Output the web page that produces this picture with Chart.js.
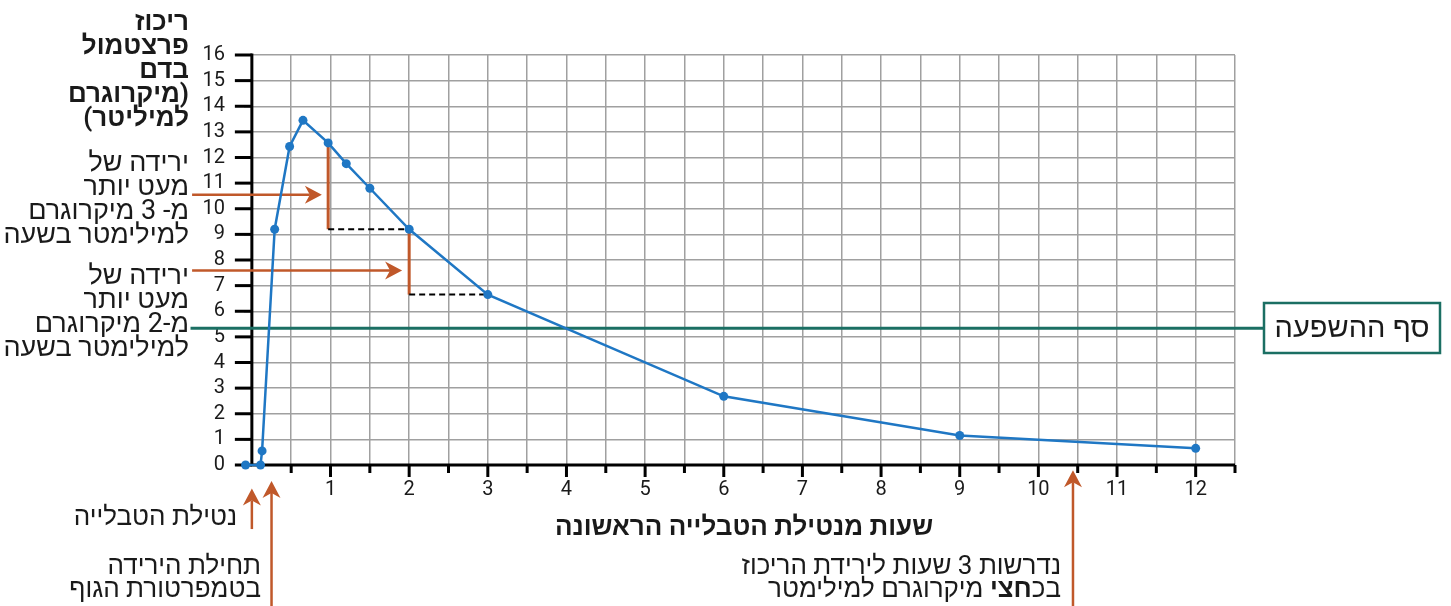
<!DOCTYPE html>
<html lang="he">
<head>
<meta charset="utf-8">
<title>ריכוז פרצטמול בדם</title>
<script src="https://cdn.jsdelivr.net/npm/chart.js@4.4.1/dist/chart.umd.min.js"></script>
<style>
  html, body { margin: 0; padding: 0; background: #fff; }
  canvas { display: block; }
</style>
</head>
<body>
<canvas id="chart" width="1451" height="606"></canvas>
<script>
'use strict';

// ***** DATA *****
const hours = [-0.08, 0.11, 0.13, 0.29, 0.48, 0.65, 0.97, 1.2, 1.5, 2, 3, 6, 9, 12];
const concentration = [0, 0, 0.55, 9.2, 12.43, 13.45, 12.57, 11.76, 10.8, 9.2, 6.65, 2.68, 1.15, 0.65];
const xLabelValues = [1, 2, 3, 4, 5, 6, 7, 8, 9, 10, 11, 12];
const threshold = 5.34;
// pairs of point indexes: orange drop from the first point, dashed run to the second
const dropSteps = [[6, 9], [9, 10]];

// ***** STYLE *****
const FONT = 'Roboto, sans-serif';
const BLUE = '#1f77c4';
const ORANGE = '#c0582a';
const TEAL = '#1b6f63';
const X_MIN = -0.1;
const X_MAX = 12.5;

// arrows in data units: [x1, y1, x2 (tip), y2 (tip)]
const arrows = [
  [-0.76, 10.55, 0.89, 10.55],
  [-0.76, 7.59, 1.91, 7.59],
  [0, -2.5, 0, -0.92],
  [0.25, -5.6, 0.25, -0.62],
  [10.44, -5.6, 10.44, -0.2]
];

// text notes in pixels: [text, x (right edge), y (middle), size, bold]
const notes = [
  ['ריכוז', 189, 23, 26, true],
  ['פרצטמול', 189, 47, 26, true],
  ['בדם', 189, 71, 26, true],
  ['(מיקרוגרם', 189, 95, 26, true],
  ['למיליטר)', 189, 119, 26, true],
  ['ירידה של', 189, 164, 27, false],
  ['מעט יותר', 189, 188, 27, false],
  ['מ- 3 מיקרוגרם', 189, 212, 27, false],
  ['למילימטר בשעה', 189, 236, 27, false],
  ['ירידה של', 189, 277, 27, false],
  ['מעט יותר', 189, 301, 27, false],
  ['מ-2 מיקרוגרם', 189, 325, 27, false],
  ['למילימטר בשעה', 189, 349, 27, false],
  ['נטילת הטבלייה', 237, 518, 26, false],
  ['תחילת הירידה', 261, 567, 26, false],
  ['בטמפרטורת הגוף', 261, 590, 26, false],
  ['נדרשות 3 שעות לירידת הריכוז', 1061, 567, 26, false]
];

// ***** HELPERS *****
function drawArrow(ctx, x1, y1, x2, y2) {
  const ang = Math.atan2(y2 - y1, x2 - x1);
  const len = 17, half = 9, notch = 12;
  ctx.beginPath();
  ctx.moveTo(x1, y1);
  ctx.lineTo(x2 - Math.cos(ang) * notch, y2 - Math.sin(ang) * notch);
  ctx.stroke();
  ctx.save();
  ctx.translate(x2, y2);
  ctx.rotate(ang);
  ctx.beginPath();
  ctx.moveTo(0, 0);
  ctx.lineTo(-len, -half);
  ctx.lineTo(-notch, 0);
  ctx.lineTo(-len, half);
  ctx.closePath();
  ctx.fill();
  ctx.restore();
}

function textFont(size, bold) {
  return (bold ? 'bold ' : '') + size + 'px ' + FONT;
}

const annotationPlugin = {
  id: 'annotations',
  beforeDatasetsDraw(chart) {
    const ctx = chart.ctx;
    const px = v => chart.scales.x.getPixelForValue(v);
    const py = v => chart.scales.y.getPixelForValue(v);
    const x0 = px(0), y0 = py(0);
    ctx.save();

    // drop steps
    dropSteps.forEach(([a, b]) => {
      const xa = px(hours[a]), ya = py(concentration[a]);
      const xb = px(hours[b]), yb = py(concentration[b]);
      ctx.setLineDash([]);
      ctx.strokeStyle = ORANGE;
      ctx.lineWidth = 3;
      ctx.beginPath();
      ctx.moveTo(xa, ya);
      ctx.lineTo(xa, yb);
      ctx.stroke();
      ctx.setLineDash([6, 4]);
      ctx.strokeStyle = '#000';
      ctx.lineWidth = 2;
      ctx.beginPath();
      ctx.moveTo(xa, yb);
      ctx.lineTo(xb, yb);
      ctx.stroke();
    });
    ctx.setLineDash([]);

    // axes
    ctx.strokeStyle = '#000';
    ctx.lineWidth = 3;
    ctx.beginPath();
    ctx.moveTo(x0, py(16) - 1.5);
    ctx.lineTo(x0, y0);
    ctx.moveTo(x0 - 1.5, y0);
    ctx.lineTo(px(X_MAX), y0);
    ctx.stroke();
    for (let v = 0; v <= 16; v++) {
      ctx.beginPath();
      ctx.moveTo(x0 - 17, py(v));
      ctx.lineTo(x0, py(v));
      ctx.stroke();
    }
    for (let v = 0.5; v <= X_MAX; v += 0.5) {
      ctx.beginPath();
      ctx.moveTo(px(v), y0);
      ctx.lineTo(px(v), y0 + (v % 1 === 0 ? 12 : 8));
      ctx.stroke();
    }

    // threshold line
    ctx.strokeStyle = TEAL;
    ctx.lineWidth = 3;
    ctx.beginPath();
    ctx.moveTo(px(-0.78), py(threshold));
    ctx.lineTo(1264, py(threshold));
    ctx.stroke();

    // arrows
    ctx.strokeStyle = ORANGE;
    ctx.fillStyle = ORANGE;
    ctx.lineWidth = 2.5;
    arrows.forEach(a => drawArrow(ctx, px(a[0]), py(a[1]), px(a[2]), py(a[3])));
    ctx.restore();
  },
  afterDraw(chart) {
    const ctx = chart.ctx;
    ctx.save();
    ctx.direction = 'rtl';
    ctx.fillStyle = '#1a1a1a';
    ctx.textBaseline = 'middle';
    ctx.textAlign = 'right';
    notes.forEach(([t, x, y, size, bold]) => {
      ctx.font = textFont(size, bold);
      ctx.fillText(t, x, y);
    });

    // mixed weight line
    let x = 1061;
    const parts = [['בכ', false], ['חצי', true], ['מיקרוגרם למילימטר', false]];
    parts.forEach(([t, bold], i) => {
      ctx.font = textFont(26, bold);
      if (i === 2) x -= ctx.measureText(' ').width;
      ctx.fillText(t, x, 590);
      x -= ctx.measureText(t).width;
    });

    // x axis title
    ctx.textAlign = 'center';
    ctx.font = textFont(26, true);
    ctx.fillText('שעות מנטילת הטבלייה הראשונה', 744, 528);

    // threshold label box
    ctx.strokeStyle = TEAL;
    ctx.lineWidth = 2.5;
    ctx.fillStyle = '#fff';
    ctx.fillRect(1264, 303, 176, 50);
    ctx.strokeRect(1264, 303, 176, 50);
    ctx.fillStyle = '#1a1a1a';
    ctx.font = textFont(29, false);
    ctx.fillText('סף ההשפעה', 1352, 330);
    ctx.restore();
  }
};

// ***** CHART *****
function renderChart() {
  const ctx = document.getElementById('chart').getContext('2d');
  const points = hours.map((h, i) => ({ x: h, y: concentration[i] }));

  new Chart(ctx, { //eslint-disable-line
    type: 'line',
    data: {
      datasets: [{
        data: points,
        borderColor: BLUE,
        backgroundColor: BLUE,
        borderWidth: 2.5,
        pointRadius: 4.5,
        pointBackgroundColor: BLUE,
        pointBorderWidth: 0,
        tension: 0,
        clip: false
      }]
    },
    options: {
      responsive: false,
      animation: false,
      layout: { padding: { left: 184, right: 216, top: 55, bottom: 101 } },
      plugins: { legend: { display: false }, tooltip: { enabled: false } },
      scales: {
        x: {
          type: 'linear',
          min: X_MIN,
          max: X_MAX,
          afterBuildTicks: scale => {
            const ticks = [];
            for (let v = 0; v <= X_MAX; v += 0.5) ticks.push({ value: v });
            scale.ticks = ticks;
          },
          afterFit: scale => { scale.height = 40; },
          border: { display: false },
          grid: { color: '#a0a0a0', lineWidth: 1.5, drawTicks: false },
          ticks: {
            autoSkip: false,
            maxRotation: 0,
            padding: 13,
            color: '#1a1a1a',
            font: { family: FONT, size: 20 },
            callback: v => (xLabelValues.includes(v) ? String(v) : '')
          }
        },
        y: {
          min: 0,
          max: 16,
          afterFit: scale => { scale.width = 60; },
          border: { display: false },
          grid: { color: '#a0a0a0', lineWidth: 1.5, drawTicks: false },
          ticks: {
            stepSize: 1,
            autoSkip: false,
            padding: 19,
            color: '#1a1a1a',
            font: { family: FONT, size: 20 }
          }
        }
      }
    },
    plugins: [annotationPlugin]
  });
}

renderChart();
</script>
</body>
</html>
